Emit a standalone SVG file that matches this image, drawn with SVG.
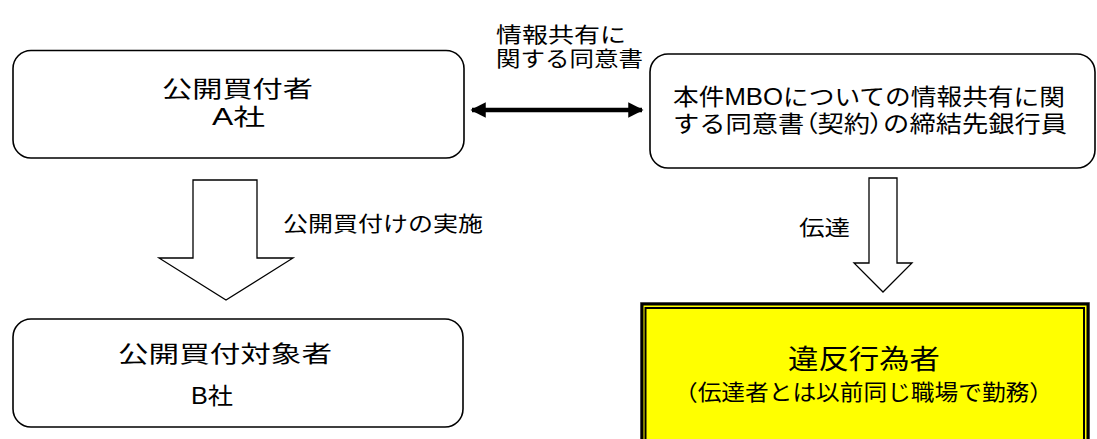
<svg xmlns="http://www.w3.org/2000/svg" width="1097" height="439" viewBox="0 0 1097 439">
<style>
.box{fill:#fff;stroke:#000;stroke-width:1.6}
.blk{fill:#fff;stroke:#000;stroke-width:1.3}
text{font-family:"Liberation Sans","Noto Sans CJK JP",sans-serif;fill:#000}
.t24{font-size:23px}
.t21{font-size:21px}
.p{font-feature-settings:"palt"}
</style>
<defs>
<marker id="ah" viewBox="0 0 10 10" refX="9" refY="5" markerWidth="4" markerHeight="3.4" orient="auto-start-reverse" markerUnits="strokeWidth">
<path d="M0,0 L10,5 L0,10 Z" fill="#000"/>
</marker>
</defs>
<g id="connectors">
<line x1="472" y1="110" x2="642" y2="110" stroke="#000" stroke-width="4.5" marker-start="url(#ah)" marker-end="url(#ah)"/>
<polygon class="blk" points="193,180 257,180 257,258 293,258 226,300 159,258 193,258"/>
<polygon class="blk" points="869,178 897,178 897,263 912,263 883,292 854,263 869,263"/>
<text class="t21" x="496" y="42" textLength="130" lengthAdjust="spacingAndGlyphs">情報共有に</text>
<text class="t21" x="496" y="66" textLength="147" lengthAdjust="spacingAndGlyphs">関する同意書</text>
<text class="t21" x="283" y="231" textLength="200" lengthAdjust="spacingAndGlyphs">公開買付けの実施</text>
<text class="t21" x="799" y="235" textLength="51" lengthAdjust="spacingAndGlyphs">伝達</text>
</g>
<g id="nodeA">
<rect class="box" x="13" y="50.5" width="451" height="107.5" rx="18"/>
<text class="t24" x="162" y="97" textLength="151" lengthAdjust="spacingAndGlyphs">公開買付者</text>
<text class="t24" x="212" y="125" textLength="53" lengthAdjust="spacingAndGlyphs">A社</text>
</g>
<g id="nodeBank">
<rect class="box" x="650" y="54" width="445" height="114" rx="18"/>
<text class="t24" x="673" y="105" textLength="392" lengthAdjust="spacingAndGlyphs">本件MBOについての情報共有に関</text>
<text class="t24" x="673" y="132" textLength="394" lengthAdjust="spacingAndGlyphs">する同意書<tspan class="p">（</tspan>契約<tspan class="p">）</tspan>の締結先銀行員</text>
</g>
<g id="nodeB">
<rect class="box" x="13" y="319" width="450" height="108" rx="18"/>
<text class="t24" x="118" y="362" textLength="214" lengthAdjust="spacingAndGlyphs">公開買付対象者</text>
<text class="t24" x="191" y="404" textLength="42" lengthAdjust="spacingAndGlyphs">B社</text>
</g>
<g id="nodeViolator">
<rect x="640.5" y="302.5" width="449" height="160" fill="#ffff00" stroke="#999" stroke-width="1"/>
<rect x="642" y="304" width="446" height="160" fill="none" stroke="#000" stroke-width="3"/>
<rect x="645.5" y="308" width="438.5" height="160" fill="none" stroke="#000" stroke-width="2"/>
<text x="788" y="369" font-size="27" textLength="152" lengthAdjust="spacingAndGlyphs">違反行為者</text>
<text x="674" y="400" font-size="22" textLength="379" lengthAdjust="spacingAndGlyphs">（伝達者とは以前同じ職場で勤務）</text>
</g>
</svg>
